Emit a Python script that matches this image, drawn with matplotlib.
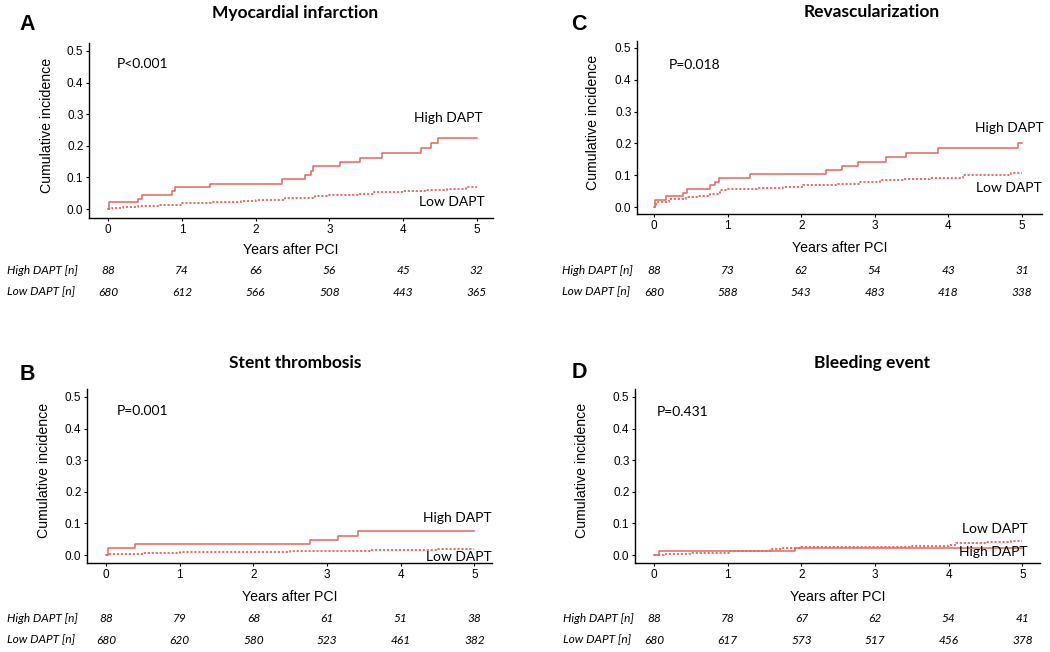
import matplotlib
matplotlib.use("Agg")
import matplotlib.pyplot as plt
from matplotlib.transforms import blended_transform_factory

# ---- data (years after PCI, cumulative incidence) ----
years = [0, 1, 2, 3, 4, 5]

# A: Myocardial infarction
mi_high_t = [0, 0.01, 0.40, 0.46, 0.86, 0.90, 1.38, 2.36, 2.67, 2.75, 2.78, 3.14, 3.41, 3.71, 4.25, 4.38, 4.48, 5.0]
mi_high_y = [0, 0.023, 0.033, 0.045, 0.057, 0.069, 0.081, 0.094, 0.108, 0.121, 0.136, 0.148, 0.162, 0.176, 0.192, 0.208, 0.226, 0.226]
mi_low_t = [0, 0.05, 0.2, 0.4, 0.7, 1.0, 1.4, 1.8, 2.0, 2.4, 2.65, 2.8, 3.0, 3.4, 3.6, 4.0, 4.3, 4.6, 4.85, 5.0]
mi_low_y = [0, 0.004, 0.006, 0.011, 0.014, 0.019, 0.022, 0.026, 0.030, 0.034, 0.036, 0.040, 0.044, 0.048, 0.054, 0.058, 0.061, 0.064, 0.071, 0.071]
mi_n_high = [88, 74, 66, 56, 45, 32]
mi_n_low = [680, 612, 566, 508, 443, 365]

# C: Revascularization
rv_high_t = [0, 0.02, 0.17, 0.39, 0.45, 0.76, 0.83, 0.89, 1.30, 2.33, 2.55, 2.77, 3.15, 3.42, 3.86, 4.95, 5.0]
rv_high_y = [0, 0.022, 0.034, 0.044, 0.057, 0.068, 0.079, 0.092, 0.103, 0.116, 0.129, 0.143, 0.156, 0.169, 0.184, 0.200, 0.200]
rv_low_t = [0, 0.02, 0.05, 0.2, 0.44, 0.6, 0.76, 0.9, 0.98, 1.4, 1.75, 2.02, 2.5, 2.79, 3.07, 3.4, 3.75, 4.2, 4.6, 4.85, 5.0]
rv_low_y = [0, 0.010, 0.016, 0.024, 0.032, 0.036, 0.042, 0.052, 0.058, 0.060, 0.063, 0.070, 0.073, 0.079, 0.084, 0.087, 0.092, 0.100, 0.102, 0.106, 0.106]
rv_n_high = [88, 73, 62, 54, 43, 31]
rv_n_low = [680, 588, 543, 483, 418, 338]

# B: Stent thrombosis
st_high_t = [0, 0.02, 0.39, 2.77, 3.15, 3.42, 5.0]
st_high_y = [0, 0.022, 0.034, 0.047, 0.061, 0.075, 0.075]
st_low_t = [0, 0.02, 0.5, 1.0, 1.8, 2.5, 3.0, 3.6, 4.0, 4.5, 5.0]
st_low_y = [0, 0.005, 0.007, 0.009, 0.011, 0.013, 0.014, 0.015, 0.017, 0.018, 0.018]
st_n_high = [88, 79, 68, 61, 51, 38]
st_n_low = [680, 620, 580, 523, 461, 382]

# D: Bleeding event
bl_high_t = [0, 0.07, 1.91, 5.0]
bl_high_y = [0, 0.012, 0.023, 0.023]
bl_low_t = [0, 0.13, 0.5, 1.03, 1.58, 1.75, 2.0, 2.5, 2.85, 3.5, 4.0, 4.1, 4.5, 4.85, 5.0]
bl_low_y = [0, 0.003, 0.008, 0.014, 0.018, 0.021, 0.024, 0.025, 0.027, 0.030, 0.033, 0.037, 0.040, 0.045, 0.045]
bl_n_high = [88, 78, 67, 62, 54, 41]
bl_n_low = [680, 617, 573, 517, 456, 378]

RED = '#E3665E'
W, H = 1050, 652

fig = plt.figure(figsize=(W / 100, H / 100), dpi=100)


def ftext(x, y, s, **kw):
    """Place text at pixel position of the figure"""
    fig.text(x / W, 1 - y / H, s, **kw)


def panel(box, xlim, ylim, high, low, n_high, n_low, title, title_xy, letter, letter_xy,
          pval, pval_xy, high_lab, low_lab, table_x, table_y, ylab_x, xlab_y):
    l, t, r, b = box
    ax = fig.add_axes([l / W, 1 - b / H, (r - l) / W, (b - t) / H])
    ax.step(high[0], high[1], where='post', color=RED, lw=1.1)
    ax.step(low[0], low[1], where='post', color=RED, lw=1.3, ls=(0, (1.2, 1.0)))
    ax.set_xlim(xlim)
    ax.set_ylim(ylim)
    ax.set_xticks(years)
    ax.set_yticks([0, 0.1, 0.2, 0.3, 0.4, 0.5])
    ax.set_yticklabels(['0.0', '0.1', '0.2', '0.3', '0.4', '0.5'])
    for s in ['top', 'right']:
        ax.spines[s].set_visible(False)
    for s in ['left', 'bottom']:
        ax.spines[s].set_linewidth(1.0)
    ax.tick_params(length=2.5, width=0.8, pad=1.5, labelsize=8.5)
    for lab in ax.get_xticklabels() + ax.get_yticklabels():
        lab.set_fontfamily('Liberation Sans')

    ax.set_ylabel('Cumulative incidence', fontsize=10.2, family='Liberation Sans', va='center')
    ax.yaxis.set_label_coords((ylab_x - l) / (r - l), 0.53)
    ax.set_xlabel('Years after PCI', fontsize=10.2, family='Liberation Sans', va='center')
    ax.xaxis.set_label_coords(0.5, (b - xlab_y) / (b - t))

    ax.text(pval_xy[0], pval_xy[1], pval, fontsize=10, family='Lato', va='center', ha='left')
    ax.text(high_lab[0], high_lab[1], 'High DAPT', fontsize=10, family='Lato', va='center', ha='right')
    ax.text(low_lab[0], low_lab[1], 'Low DAPT', fontsize=10, family='Lato', va='center', ha='right')

    ftext(title_xy[0], title_xy[1], title, fontsize=12.5, family='Lato', weight='bold',
          ha='center', va='center')
    ftext(letter_xy[0], letter_xy[1], letter, fontsize=15.5, family='Liberation Sans', weight='bold',
          ha='center', va='center')

    # number at risk table
    tr = blended_transform_factory(ax.transData, fig.transFigure)
    for row_y, label, counts in [(table_y[0], 'High DAPT [n]', n_high), (table_y[1], 'Low DAPT [n]', n_low)]:
        ftext(table_x, row_y, label, fontsize=8.6, family='Lato', style='italic', ha='left', va='center')
        for yr, n in zip(years, counts):
            ax.text(yr, 1 - row_y / H, str(n), transform=tr, fontsize=8.6, family='Lato',
                    style='italic', ha='center', va='center')
    return ax


panel((89, 43, 493, 218), (-0.26, 5.22), (-0.028, 0.525),
      (mi_high_t, mi_high_y), (mi_low_t, mi_low_y), mi_n_high, mi_n_low,
      'Myocardial infarction', (295, 13), 'A', (27, 25),
      'P<0.001', (0.11, 0.459), (5.08, 0.288), (5.11, 0.022), 7, (270, 292), 47, 250)

panel((637, 41, 1042, 214), (-0.23, 5.27), (-0.022, 0.522),
      (rv_high_t, rv_high_y), (rv_low_t, rv_low_y), rv_n_high, rv_n_low,
      'Revascularization', (872, 12), 'C', (579, 24),
      'P=0.018', (0.2, 0.447), (5.29, 0.248), (5.27, 0.06), 562, (270, 292), 593, 248)

panel((87, 389, 492, 563), (-0.26, 5.24), (-0.025, 0.525),
      (st_high_t, st_high_y), (st_low_t, st_low_y), st_n_high, st_n_low,
      'Stent thrombosis', (295, 363), 'B', (27, 374),
      'P=0.001', (0.14, 0.456), (5.24, 0.117), (5.23, -0.006), 7, (619, 640), 44, 597)

panel((635, 389, 1040, 563), (-0.26, 5.24), (-0.025, 0.525),
      (bl_high_t, bl_high_y), (bl_low_t, bl_low_y), bl_n_high, bl_n_low,
      'Bleeding event', (872, 363), 'D', (579, 372),
      'P=0.431', (0.03, 0.453), (5.07, 0.009), (5.07, 0.082), 563, (619, 640), 582, 597)

fig.savefig('out.png', dpi=100)
